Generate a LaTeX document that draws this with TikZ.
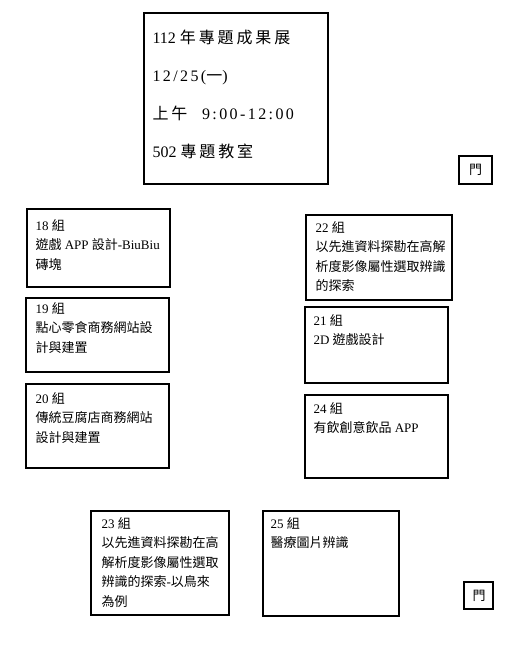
\documentclass[tikz,border=0pt]{standalone}
\usepackage{fontspec}
\setmainfont{Liberation Serif}
\newfontfamily\cjk{Noto Sans CJK TC}
\newfontfamily\cjkwide[LetterSpace=18]{Noto Sans CJK TC}
\newfontfamily\latinwide[LetterSpace=15]{Liberation Serif}

\tikzset{every picture/.style={line width=0.8pt}}
\tikzset{boothtext/.style={anchor=north west, inner sep=0pt, align=left, font=\fontsize{9.75pt}{14.6pt}\selectfont}}
\tikzset{titletext/.style={anchor=north west, inner sep=0pt, align=left, font=\fontsize{12pt}{28.5pt}\selectfont}}
\tikzset{doortext/.style={inner sep=0pt, font=\fontsize{9.75pt}{12pt}\selectfont\cjk}}

\begin{document}
\begin{tikzpicture}[x=0.75pt,y=0.75pt,yscale=-1]
    \useasboundingbox (0,0) rectangle (521,646);

    %Shape: Rectangle [title]
    \draw   (144,13) -- (328,13) -- (328,184) -- (144,184) -- cycle ;
    %Shape: Rectangle [door top]
    \draw   (459,156) -- (492,156) -- (492,184) -- (459,184) -- cycle ;

    %Shape: Rectangle [group 18]
    \draw   (27,209) -- (170,209) -- (170,287) -- (27,287) -- cycle ;
    %Shape: Rectangle [group 19]
    \draw   (26,298) -- (169,298) -- (169,372) -- (26,372) -- cycle ;
    %Shape: Rectangle [group 20]
    \draw   (26,384) -- (169,384) -- (169,468) -- (26,468) -- cycle ;

    %Shape: Rectangle [group 22]
    \draw   (306,215) -- (452,215) -- (452,300) -- (306,300) -- cycle ;
    %Shape: Rectangle [group 21]
    \draw   (305,307) -- (448,307) -- (448,383) -- (305,383) -- cycle ;
    %Shape: Rectangle [group 24]
    \draw   (305,395) -- (448,395) -- (448,478) -- (305,478) -- cycle ;

    %Shape: Rectangle [group 23]
    \draw   (91,511) -- (229,511) -- (229,615) -- (91,615) -- cycle ;
    %Shape: Rectangle [group 25]
    \draw   (263,511) -- (399,511) -- (399,616) -- (263,616) -- cycle ;
    %Shape: Rectangle [door bottom]
    \draw   (464,582) -- (493,582) -- (493,609) -- (464,609) -- cycle ;


    % Text Node
    \node (title) at (152,29) [titletext] {112 {\cjkwide 年專題成果展}\\{\latinwide 12/25(}{\cjk 一}{\latinwide )}\\{\cjkwide 上午}\hspace{11pt}{\latinwide 9:00-12:00}\\502 {\cjkwide 專題教室}};
    % Text Node
    \node (doorA) at (475.5,170) [doortext] {門};
    % Text Node
    \node (g18) at (35,219) [boothtext] {18 {\cjk 組}\\{\cjk 遊戲} APP {\cjk 設計}-BiuBiu\\{\cjk 磚塊}};
    % Text Node
    \node (g19) at (35,302) [boothtext] {19 {\cjk 組}\\{\cjk 點心零食商務網站設}\\{\cjk 計與建置}};
    % Text Node
    \node (g20) at (35,392) [boothtext] {20 {\cjk 組}\\{\cjk 傳統豆腐店商務網站}\\{\cjk 設計與建置}};
    % Text Node
    \node (g22) at (315,221) [boothtext] {22 {\cjk 組}\\{\cjk 以先進資料探勘在高解}\\{\cjk 析度影像屬性選取辨識}\\{\cjk 的探索}};
    % Text Node
    \node (g21) at (313,314) [boothtext] {21 {\cjk 組}\\2D {\cjk 遊戲設計}};
    % Text Node
    \node (g24) at (313,402) [boothtext] {24 {\cjk 組}\\{\cjk 有飲創意飲品} APP};
    % Text Node
    \node (g23) at (101,517) [boothtext] {23 {\cjk 組}\\{\cjk 以先進資料探勘在高}\\{\cjk 解析度影像屬性選取}\\{\cjk 辨識的探索}-{\cjk 以鳥來}\\{\cjk 為例}};
    % Text Node
    \node (g25) at (270,517) [boothtext] {25 {\cjk 組}\\{\cjk 醫療圖片辨識}};
    % Text Node
    \node (doorB) at (479,595.5) [doortext] {門};

\end{tikzpicture}
\end{document}
